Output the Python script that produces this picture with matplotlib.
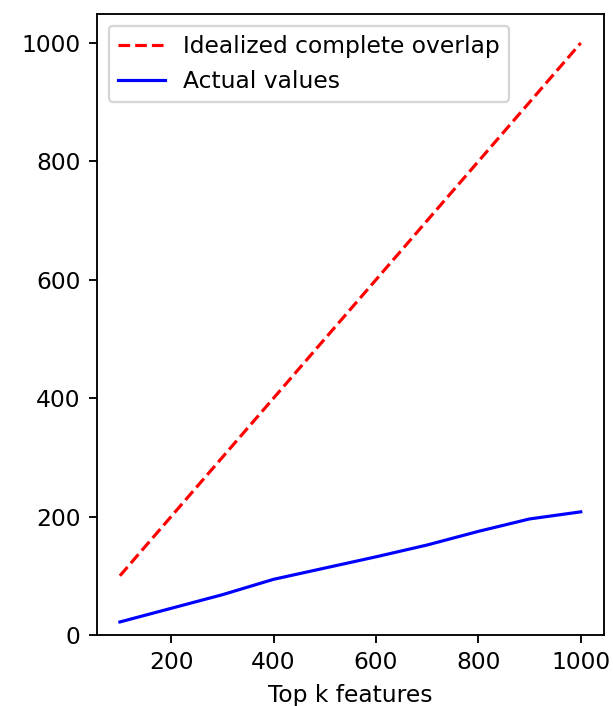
import numpy as np
import matplotlib
matplotlib.use("Agg")
import matplotlib.pyplot as plt

top_k = [100, 200, 300, 400, 500, 600, 700, 800, 900, 1000]
idealized = [100, 200, 300, 400, 500, 600, 700, 800, 900, 1000]
actual = [22, 45, 68, 94, 113, 132, 152, 175, 196, 208]


def main():
    dpi = 168
    fig = plt.figure(figsize=(613 / dpi, 706 / dpi), dpi=dpi)
    ax = fig.add_axes([0.158, 0.1006, 0.827, 0.8795])
    ax.plot(top_k, idealized, "r--", linewidth=1.35, label="Idealized complete overlap")
    ax.plot(top_k, actual, "b-", linewidth=1.35, label="Actual values")
    ax.set_ylim(bottom=0)
    ax.set_xticks(np.arange(200, 1001, 200))
    ax.set_xlabel("Top k features")
    ax.legend(loc="upper left")
    fig.savefig("out.png", dpi=dpi)


if __name__ == "__main__":
    main()
